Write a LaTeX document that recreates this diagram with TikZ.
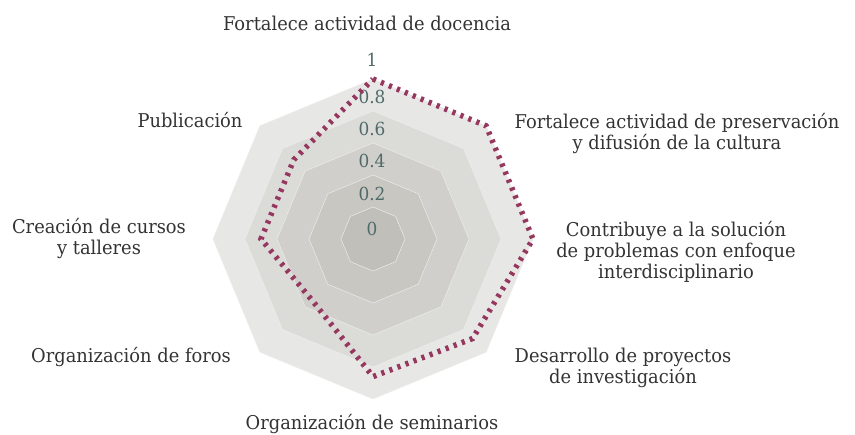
\documentclass[tikz,border=0pt]{standalone}
\usepackage{fontspec}
\setmainfont{DejaVu Serif}[FakeStretch=0.94]
\usetikzlibrary{calc}
\definecolor{ringA}{HTML}{E7E8E5}
\definecolor{ringB}{HTML}{DBDBD8}
\definecolor{ringC}{HTML}{D0CFCB}
\definecolor{ringD}{HTML}{C8C7C2}
\definecolor{ringE}{HTML}{C0BFBA}
\definecolor{ringline}{HTML}{EDEDEA}
\definecolor{txt}{HTML}{333333}
\definecolor{tick}{HTML}{4F6A6A}
\definecolor{serie}{RGB}{150,55,95}
\tikzset{
  lbl/.style={text=txt, font=\fontsize{19}{21}\selectfont, align=center, inner sep=0pt},
  ticklbl/.style={text=tick, font=\fontsize{18}{20}\selectfont, inner sep=0pt, anchor=base},
  ringfill/.style={fill=#1, draw=ringline, line width=0.5pt},
  dataline/.style={draw=serie, line width=5.5pt, dash pattern=on 3.2pt off 5.4pt, line join=miter}
}
\newcommand{\octa}[2]{\path[ringfill=#1, shift={(c)}] (90:#2) -- (135:#2) -- (180:#2) -- (225:#2) -- (270:#2) -- (315:#2) -- (0:#2) -- (45:#2) -- cycle;}
\begin{document}
\begin{tikzpicture}[x=1pt,y=-1pt]
\useasboundingbox (0,0) rectangle (855,435);
\coordinate (c) at (373,239);
\octa{ringA}{160pt}
\octa{ringB}{128pt}
\octa{ringC}{96pt}
\octa{ringD}{64pt}
\octa{ringE}{32pt}
% tick labels
\node[ticklbl] (t1) at (372,67) {1};
\node[ticklbl] (t08) at (372,104) {0.8};
\node[ticklbl] (t06) at (372,136) {0.6};
\node[ticklbl] (t04) at (372,168) {0.4};
\node[ticklbl] (t02) at (372,201) {0.2};
\node[ticklbl] (t0) at (372,236) {0};
% data series
\draw[dataline, shift={(c)}] (90:160pt) coordinate (d1) -- (45:160pt) coordinate (d2) -- (0:160pt) coordinate (d3)
  -- (-45:140.8pt) coordinate (d4) -- (-90:137.6pt) coordinate (d5) -- (-135:86.4pt) coordinate (d6)
  -- (180:112pt) coordinate (d7) -- (135:112pt) coordinate (d8) -- cycle;
% axis labels
\node[lbl, anchor=base] (l1) at (367,31) {Fortalece actividad de docencia};
\node[lbl] (l2) at (677,134) {Fortalece actividad de preservación\\y difusión de la cultura};
\node[lbl] (l3) at (676,252) {Contribuye a la solución\\de problemas con enfoque\\interdisciplinario};
\node[lbl] (l4) at (623,368) {Desarrollo de proyectos\\de investigación};
\node[lbl, anchor=base] (l5) at (372,430) {Organización de seminarios};
\node[lbl, anchor=base] (l6) at (131,363) {Organización de foros};
\node[lbl] (l7) at (99,239) {Creación de cursos\\y talleres};
\node[lbl, anchor=base] (l8) at (190,128) {Publicación};
\end{tikzpicture}
\end{document}
